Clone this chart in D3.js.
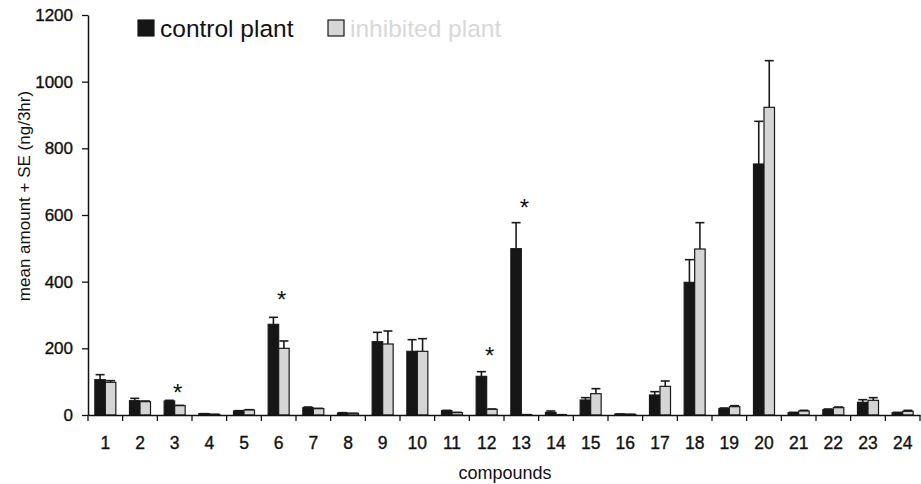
<!DOCTYPE html>
<html>
<head>
<meta charset="utf-8">
<script src="https://cdn.jsdelivr.net/npm/d3@7"></script>
<style>
  body { margin: 0; background: #fff; }
  text { font-family: "Liberation Sans", Arial, sans-serif; fill: #111; }
</style>
</head>
<body>
<div id="chart"></div>
<script>
// data
const categories = ["1","2","3","4","5","6","7","8","9","10","11","12","13","14","15","16","17","18","19","20","21","22","23","24"];
const control     = [106, 43, 42, 4, 12, 272, 22, 6, 220, 191, 13, 116, 499, 8, 45, 3, 60, 398, 19, 753, 7, 16, 38, 7];
const controlSE   = [15, 7, 2, 0, 1, 21, 2, 1, 28, 35, 1, 14, 78, 4, 7, 0, 10, 68, 2, 128, 1, 2, 8, 1];
const inhibited   = [98, 40, 28, 2, 15, 200, 19, 5, 213, 191, 7, 17, 1, 1, 64, 2, 86, 498, 25, 923, 12, 22, 44, 11];
const inhibitedSE = [5, 2, 1, 0, 1, 22, 1, 0, 39, 38, 1, 1, 0, 0, 15, 0, 16, 79, 3, 140, 2, 2, 8, 3];
const starCats    = ["3", "6", "12", "13"];
const starValues  = [81, 360, 193, 636];
const yTicks      = [0, 200, 400, 600, 800, 1000, 1200];
const seriesNames = ["control plant", "inhibited plant"];

// svg size
const width = 921;
const height = 484;

// plot edges
const plotLeft = 88, plotRight = 920, plotTop = 15, plotBottom = 415;

const svg = d3.select("#chart").append("svg")
    .attr("width", width)
    .attr("height", height);

// scales
const x = d3.scaleBand()
    .domain(categories)
    .range([plotLeft, plotRight])
    .padding(0);

const xSub = d3.scaleBand()
    .domain(["control", "inhibited"])
    .range([0, x.bandwidth()])
    .paddingInner(0)
    .paddingOuter(0.65);

const y = d3.scaleLinear()
    .domain([0, 1200])
    .range([plotBottom, plotTop]);

// rows
const rows = categories.map((c, i) => [
    {cat: c, key: "control", v: control[i], se: controlSE[i]},
    {cat: c, key: "inhibited", v: inhibited[i], se: inhibitedSE[i]}
]).flat();

const fills = {control: "#161616", inhibited: "#d5d5d5"};

// error bars (drawn first so the bar hides the lower part)
const err = svg.append("g").attr("stroke", "#1a1a1a").attr("stroke-width", 1.6);
rows.forEach(d => {
    const cx = x(d.cat) + xSub(d.key) + xSub.bandwidth() / 2;
    err.append("line")
        .attr("x1", cx).attr("x2", cx)
        .attr("y1", y(d.v)).attr("y2", y(d.v + d.se));
    err.append("line")
        .attr("x1", cx - 4.5).attr("x2", cx + 4.5)
        .attr("y1", y(d.v + d.se)).attr("y2", y(d.v + d.se));
});

// bars
svg.append("g")
    .selectAll("rect")
    .data(rows)
    .enter()
    .append("rect")
    .attr("x", d => x(d.cat) + xSub(d.key))
    .attr("y", d => y(d.v))
    .attr("width", xSub.bandwidth())
    .attr("height", d => y(0) - y(d.v))
    .attr("fill", d => fills[d.key])
    .attr("stroke", "#1a1a1a")
    .attr("stroke-width", 1.2);

// significance stars
svg.append("g")
    .selectAll("text")
    .data(starCats)
    .enter()
    .append("text")
    .attr("x", (d) => x(d) + x.bandwidth() / 2 + 3)
    .attr("y", (d, i) => y(starValues[i]) + 13)
    .attr("text-anchor", "middle")
    .style("font-size", "24px")
    .text("*");

// y axis
const yAxis = svg.append("g")
    .attr("transform", `translate(${plotLeft},0)`)
    .call(d3.axisLeft(y).tickValues(yTicks).tickFormat(d3.format("d"))
        .tickSize(6).tickPadding(9).tickSizeOuter(0));
yAxis.selectAll("text")
    .style("font-size", "17px")
    .attr("stroke", "#111").attr("stroke-width", 0.35);

// x axis: ticks on category boundaries
const xAxis = svg.append("g")
    .attr("transform", `translate(0,${plotBottom})`)
    .call(d3.axisBottom(x).tickSize(0).tickPadding(22).tickSizeOuter(0));
xAxis.selectAll("text")
    .style("font-size", "17.5px")
    .attr("stroke", "#111").attr("stroke-width", 0.35);
xAxis.selectAll(".sep")
    .data(categories.concat(["end"]))
    .enter()
    .append("line")
    .attr("x1", (d, i) => plotLeft + i * x.step())
    .attr("x2", (d, i) => plotLeft + i * x.step())
    .attr("y1", 0).attr("y2", 6)
    .attr("stroke", "#111")
    .attr("stroke-width", 1.3);

svg.selectAll(".domain").attr("stroke", "#111").attr("stroke-width", 1.5);
svg.selectAll(".tick line").attr("stroke", "#111").attr("stroke-width", 1.3);

// axis titles
svg.append("text")
    .attr("x", (plotLeft + plotRight) / 2 + 1)
    .attr("y", 479)
    .attr("text-anchor", "middle")
    .style("font-size", "18px")
    .text("compounds");

svg.append("text")
    .attr("transform", "translate(30,196) rotate(-90)")
    .attr("text-anchor", "middle")
    .style("font-size", "17px")
    .text("mean amount + SE (ng/3hr)");

// legend
const legend = svg.append("g");
const legendX = [138, 328];
seriesNames.forEach((name, i) => {
    legend.append("rect")
        .attr("x", legendX[i]).attr("y", 20)
        .attr("width", 16).attr("height", 16)
        .attr("fill", i === 0 ? fills.control : fills.inhibited)
        .attr("stroke", "#1a1a1a")
        .attr("stroke-width", 1.2);
    legend.append("text")
        .attr("x", legendX[i] + 22)
        .attr("y", 37)
        .style("font-size", "24.5px")
        .style("fill", i === 0 ? "#111" : "#d8d8d8")
        .text(name);
});
</script>
</body>
</html>
